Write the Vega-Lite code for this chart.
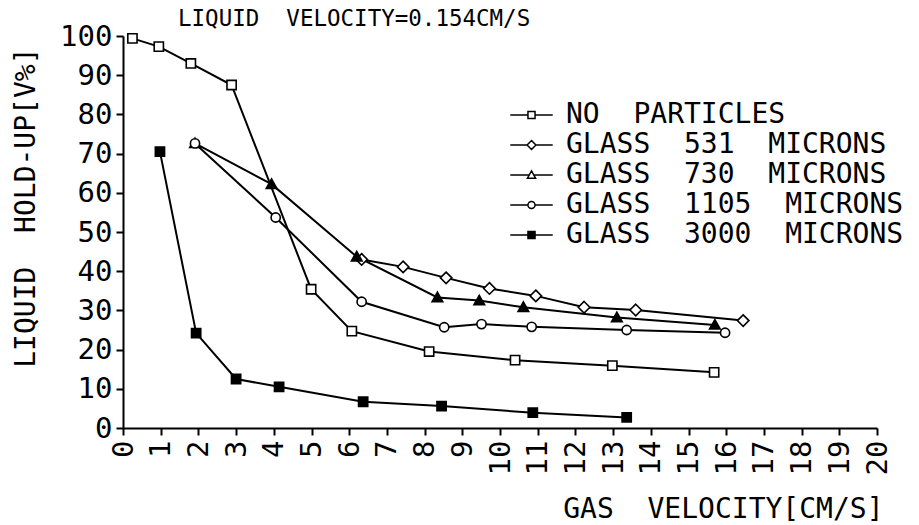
{
  "$schema": "https://vega.github.io/schema/vega-lite/v6.json",
  "autosize": "none",
  "width": 754,
  "height": 392,
  "padding": {"left": 123, "top": 36, "right": 42, "bottom": 97},
  "background": "white",
  "title": {
    "text": "LIQUID \u00a0VELOCITY=0.154CM/S",
    "anchor": "start",
    "frame": "group",
    "dx": 55,
    "dy": 31,
    "offset": 0,
    "baseline": "bottom",
    "font": "DejaVu Sans Mono",
    "fontSize": 22.5,
    "fontWeight": "normal",
    "color": "black"
  },
  "config": {
    "view": {"stroke": null},
    "axis": {
      "grid": false,
      "domainColor": "black",
      "domainWidth": 2,
      "tickColor": "black",
      "tickWidth": 2,
      "tickSize": 7,
      "labelFont": "DejaVu Sans Mono",
      "labelFontSize": 29,
      "labelColor": "black",
      "titleFont": "DejaVu Sans Mono",
      "titleFontSize": 28,
      "titleFontWeight": "normal",
      "titleColor": "black"
    }
  },
  "data": {
    "values": [
      {"series": "NO \u00a0PARTICLES", "gas": 0.25, "holdup": 99.4},
      {"series": "NO \u00a0PARTICLES", "gas": 0.95, "holdup": 97.3},
      {"series": "NO \u00a0PARTICLES", "gas": 1.8, "holdup": 93.0},
      {"series": "NO \u00a0PARTICLES", "gas": 2.88, "holdup": 87.5},
      {"series": "NO \u00a0PARTICLES", "gas": 4.99, "holdup": 35.4},
      {"series": "NO \u00a0PARTICLES", "gas": 6.07, "holdup": 24.7},
      {"series": "NO \u00a0PARTICLES", "gas": 8.12, "holdup": 19.5},
      {"series": "NO \u00a0PARTICLES", "gas": 10.4, "holdup": 17.3},
      {"series": "NO \u00a0PARTICLES", "gas": 12.98, "holdup": 15.9},
      {"series": "NO \u00a0PARTICLES", "gas": 15.68, "holdup": 14.2},
      {"series": "GLASS \u00a0531 \u00a0MICRONS", "gas": 6.33, "holdup": 43.0},
      {"series": "GLASS \u00a0531 \u00a0MICRONS", "gas": 7.43, "holdup": 41.1},
      {"series": "GLASS \u00a0531 \u00a0MICRONS", "gas": 8.57, "holdup": 38.3},
      {"series": "GLASS \u00a0531 \u00a0MICRONS", "gas": 9.72, "holdup": 35.6},
      {"series": "GLASS \u00a0531 \u00a0MICRONS", "gas": 10.95, "holdup": 33.7},
      {"series": "GLASS \u00a0531 \u00a0MICRONS", "gas": 12.23, "holdup": 30.8},
      {"series": "GLASS \u00a0531 \u00a0MICRONS", "gas": 13.6, "holdup": 30.1},
      {"series": "GLASS \u00a0531 \u00a0MICRONS", "gas": 16.45, "holdup": 27.4},
      {"series": "GLASS \u00a0730 \u00a0MICRONS", "gas": 1.91, "holdup": 72.6},
      {"series": "GLASS \u00a0730 \u00a0MICRONS", "gas": 3.94, "holdup": 62.2},
      {"series": "GLASS \u00a0730 \u00a0MICRONS", "gas": 6.2, "holdup": 43.7},
      {"series": "GLASS \u00a0730 \u00a0MICRONS", "gas": 8.34, "holdup": 33.3},
      {"series": "GLASS \u00a0730 \u00a0MICRONS", "gas": 9.45, "holdup": 32.5},
      {"series": "GLASS \u00a0730 \u00a0MICRONS", "gas": 10.62, "holdup": 30.8},
      {"series": "GLASS \u00a0730 \u00a0MICRONS", "gas": 13.1, "holdup": 28.2},
      {"series": "GLASS \u00a0730 \u00a0MICRONS", "gas": 15.7, "holdup": 26.3},
      {"series": "GLASS \u00a01105 \u00a0MICRONS", "gas": 1.91, "holdup": 72.6},
      {"series": "GLASS \u00a01105 \u00a0MICRONS", "gas": 4.05, "holdup": 53.7},
      {"series": "GLASS \u00a01105 \u00a0MICRONS", "gas": 6.33, "holdup": 32.2},
      {"series": "GLASS \u00a01105 \u00a0MICRONS", "gas": 8.52, "holdup": 25.7},
      {"series": "GLASS \u00a01105 \u00a0MICRONS", "gas": 9.51, "holdup": 26.5},
      {"series": "GLASS \u00a01105 \u00a0MICRONS", "gas": 10.84, "holdup": 25.8},
      {"series": "GLASS \u00a01105 \u00a0MICRONS", "gas": 13.36, "holdup": 25.0},
      {"series": "GLASS \u00a01105 \u00a0MICRONS", "gas": 15.97, "holdup": 24.3},
      {"series": "GLASS \u00a03000 \u00a0MICRONS", "gas": 0.98, "holdup": 70.5},
      {"series": "GLASS \u00a03000 \u00a0MICRONS", "gas": 1.94, "holdup": 24.2},
      {"series": "GLASS \u00a03000 \u00a0MICRONS", "gas": 3.0, "holdup": 12.5},
      {"series": "GLASS \u00a03000 \u00a0MICRONS", "gas": 4.14, "holdup": 10.5},
      {"series": "GLASS \u00a03000 \u00a0MICRONS", "gas": 6.37, "holdup": 6.7},
      {"series": "GLASS \u00a03000 \u00a0MICRONS", "gas": 8.45, "holdup": 5.6},
      {"series": "GLASS \u00a03000 \u00a0MICRONS", "gas": 10.87, "holdup": 3.9},
      {"series": "GLASS \u00a03000 \u00a0MICRONS", "gas": 13.36, "holdup": 2.7}
    ]
  },
  "encoding": {
    "x": {
      "field": "gas",
      "type": "quantitative",
      "scale": {"domain": [0, 20], "nice": false, "zero": false},
      "axis": {
        "values": [0,1,2,3,4,5,6,7,8,9,10,11,12,13,14,15,16,17,18,19,20],
        "labelAngle": -90,
        "labelAlign": "right",
        "labelBaseline": "middle",
        "labelPadding": 5,
        "labelFlush": false,
        "labelOverlap": false,
        "title": "GAS \u00a0VELOCITY[CM/S]",
        "titleAnchor": "end",
        "titleAlign": "right",
        "titleX": 760,
        "titleY": 89,
        "titleBaseline": "alphabetic"
      }
    },
    "y": {
      "field": "holdup",
      "type": "quantitative",
      "scale": {"domain": [0, 100], "nice": false, "zero": false},
      "axis": {
        "values": [0,10,20,30,40,50,60,70,80,90,100],
        "labelPadding": 4,
        "labelFlush": false,
        "labelOverlap": false,
        "title": "LIQUID \u00a0HOLD-UP[V%]",
        "titleAngle": 270,
        "titleAlign": "right",
        "titleBaseline": "middle",
        "titleX": -97,
        "titleY": 11
      }
    }
  },
  "resolve": {
    "scale": {"shape": "independent", "fill": "independent"},
    "legend": {"shape": "independent", "fill": "independent"}
  },
  "layer": [
    {
      "mark": {"type": "line", "color": "black", "strokeWidth": 2},
      "encoding": {
        "detail": {"field": "series"}
      }
    },
    {
      "mark": {"type": "point", "filled": false, "color": "black", "strokeWidth": 1.5, "opacity": 0, "size": 1},
      "encoding": {
        "shape": {
          "field": "series",
          "type": "nominal",
          "scale": {
            "domain": ["NO \u00a0PARTICLES", "GLASS \u00a0531 \u00a0MICRONS", "GLASS \u00a0730 \u00a0MICRONS", "GLASS \u00a01105 \u00a0MICRONS", "GLASS \u00a03000 \u00a0MICRONS"],
            "range": [
              "M-1,-1H1V1H-1ZM-6,0H-1M1,0H6",
              "M0,-1.25L1.25,0L0,1.25L-1.25,0ZM-6,0H-1.25M1.25,0H6",
              "M0,-1.15L1.15,0.9H-1.15ZM-6,0H-0.6M0.6,0H6",
              "M1,0A1,1,0,1,1,-1,0A1,1,0,1,1,1,0ZM-6,0H-1M1,0H6",
              "M-1,-1H1V1H-1ZM-6,0H-1M1,0H6"
            ]
          },
          "legend": {
            "title": null,
            "orient": "none",
            "legendX": 394.5,
            "legendY": 65,
            "padding": 0,
            "symbolSize": 50,
            "symbolOpacity": 1,
            "symbolStrokeWidth": 1.5,
            "labelOffset": 20.5,
            "labelFont": "DejaVu Sans Mono",
            "labelFontSize": 28,
            "labelColor": "black",
            "labelLimit": 600,
            "rowPadding": 2
          }
        },
        "fill": {
          "field": "series",
          "type": "nominal",
          "scale": {
            "domain": ["NO \u00a0PARTICLES", "GLASS \u00a0531 \u00a0MICRONS", "GLASS \u00a0730 \u00a0MICRONS", "GLASS \u00a01105 \u00a0MICRONS", "GLASS \u00a03000 \u00a0MICRONS"],
            "range": ["white", "white", "white", "white", "black"]
          },
          "legend": null
        }
      }
    },
    {
      "mark": {"type": "point", "filled": true, "stroke": "black", "strokeWidth": 1.6, "opacity": 1, "size": 85},
      "encoding": {
        "shape": {
          "field": "series",
          "type": "nominal",
          "scale": {
            "domain": ["NO \u00a0PARTICLES", "GLASS \u00a0531 \u00a0MICRONS", "GLASS \u00a0730 \u00a0MICRONS", "GLASS \u00a01105 \u00a0MICRONS", "GLASS \u00a03000 \u00a0MICRONS"],
            "range": [
              "M-1,-1H1V1H-1Z",
              "M0,-1.25L1.25,0L0,1.25L-1.25,0Z",
              "M0,-1.15L1.15,0.9H-1.15Z",
              "M1,0A1,1,0,1,1,-1,0A1,1,0,1,1,1,0Z",
              "M-1,-1H1V1H-1Z"
            ]
          },
          "legend": null
        },
        "fill": {
          "field": "series",
          "type": "nominal",
          "scale": {
            "domain": ["NO \u00a0PARTICLES", "GLASS \u00a0531 \u00a0MICRONS", "GLASS \u00a0730 \u00a0MICRONS", "GLASS \u00a01105 \u00a0MICRONS", "GLASS \u00a03000 \u00a0MICRONS"],
            "range": ["white", "white", "black", "white", "black"]
          },
          "legend": null
        }
      }
    }
  ]
}
